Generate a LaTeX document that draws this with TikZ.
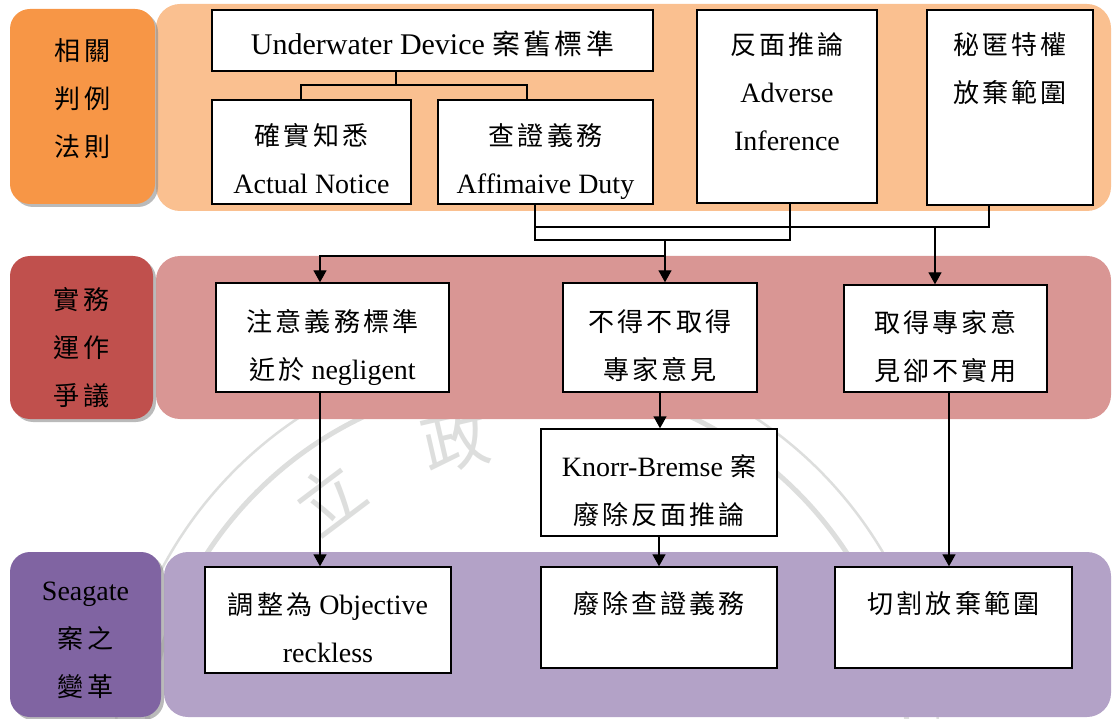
\documentclass[tikz,border=0pt]{standalone}
\usepackage{fontspec}
\setmainfont{Liberation Serif}
\newfontfamily\zh{Noto Sans CJK TC}[Scale=0.93, LetterSpace=12]
\usepackage{xcolor}
\usetikzlibrary{arrows.meta}
\usetikzlibrary{shadows}
\definecolor{orangedark}{HTML}{F79646}
\definecolor{orangelight}{HTML}{FAC090}
\definecolor{reddark}{HTML}{C0504D}
\definecolor{redlight}{HTML}{D99694}
\definecolor{purpledark}{HTML}{8064A2}
\definecolor{purplelight}{HTML}{B3A2C7}
\definecolor{marklight}{HTML}{DDDEDD}
\begin{document}
\begin{tikzpicture}[x=1pt, y=-1pt,
  every node/.style={font=\fontsize{28}{48}\selectfont, align=center},
  textpad/.style n args={2}{execute at begin node={\rule{0pt}{#1pt}}, execute at end node={\rule[-#2pt]{0pt}{#2pt}}},
  twolines/.style={textpad={92}{8}},
  rowband/.style={rounded corners=24pt, inner sep=0pt},
  rowtag/.style={rounded corners=20pt, inner sep=0pt, font=\fontsize{28}{48}\selectfont\zh,
    drop shadow={shadow xshift=3pt, shadow yshift=-3pt, fill=black!45, opacity=0.6}},
  casebox/.style={draw, line width=1.4pt, fill=white, inner sep=0pt},
  link/.style={line width=1.4pt},
  flow/.style={link, -{Triangle[width=13pt, length=12pt]}}]
\useasboundingbox (0,0) rectangle (1114,719);

% watermark
\begin{scope}
\clip (0,0) rectangle (1114,719);
\draw [marklight, line width=2.5pt] (527,762) circle (413);
\draw [marklight, line width=5pt] (527,762) circle (382);
\node (markli) [marklight, rotate=37, font=\fontsize{72}{72}\selectfont\zh] at (329,498) {立};
\node (markzheng) [marklight, rotate=13, font=\fontsize{72}{72}\selectfont\zh] at (455,440) {政};
\end{scope}

% rows
\node (rulesband) [rowband, fill=orangelight, minimum width=955pt, minimum height=207pt] at (633.5,107.5) {};
\node (rulestag) [rowtag, fill=orangedark, minimum width=145pt, minimum height=195pt, textpad={25}{17}] at (82.5,106.5) {相關\\判例\\法則};
\node (practiceband) [rowband, fill=redlight, minimum width=955pt, minimum height=163pt] at (633.5,337.5) {};
\node (practicetag) [rowtag, fill=reddark, minimum width=143pt, minimum height=163pt, textpad={143}{8}] at (81.5,337.5) {實務\\運作\\爭議};
\node (seagateband) [rowband, fill=purplelight, minimum width=947pt, minimum height=165pt] at (637.5,634.5) {};
\node (seagatetag) [rowtag, fill=purpledark, minimum width=151pt, minimum height=165pt, textpad={131}{8}] at (85.5,634.5) {{\rmfamily Seagate}\\案之\\變革};

% case law
\node (underwater) [casebox, minimum width=441pt, minimum height=61pt, textpad={37}{8}, font=\fontsize{30}{48}\selectfont] at (432.5,40.5) {Underwater Device {\zh 案舊標準}};
\node (notice) [casebox, twolines, minimum width=199pt, minimum height=104pt] at (311.5,152) {{\zh 確實知悉}\\Actual Notice};
\node (duty) [casebox, twolines, minimum width=215pt, minimum height=104pt] at (545.5,152) {{\zh 查證義務}\\Affimaive Duty};
\node (adverse) [casebox, minimum width=180pt, minimum height=193pt, textpad={25}{30}] at (787,106.5) {{\zh 反面推論}\\Adverse\\Inference};
\node (privilege) [casebox, minimum width=166pt, minimum height=195pt, textpad={25}{80}] at (1010,107.5) {{\zh 秘匿特權}\\{\zh 放棄範圍}};

% practice
\node (care) [casebox, twolines, minimum width=233pt, minimum height=109pt] at (332.5,337.5) {{\zh 注意義務標準}\\{\zh 近於} negligent};
\node (opinion) [casebox, twolines, minimum width=194pt, minimum height=109pt] at (660,337.5) {{\zh 不得不取得}\\{\zh 專家意見}};
\node (useless) [casebox, twolines, minimum width=203pt, minimum height=107pt] at (945.5,338.5) {{\zh 取得專家意}\\{\zh 見卻不實用}};
\node (knorr) [casebox, twolines, minimum width=236pt, minimum height=107pt] at (659,482.5) {Knorr-Bremse {\zh 案}\\{\zh 廢除反面推論}};

% seagate
\node (reckless) [casebox, twolines, minimum width=246pt, minimum height=106pt] at (328,620) {{\zh 調整為} Objective\\reckless};
\node (noduty) [casebox, minimum width=236pt, minimum height=101pt, textpad={25}{34}] at (659,617.5) {{\zh 廢除查證義務}};
\node (cutting) [casebox, minimum width=237pt, minimum height=101pt, textpad={25}{34}] at (953.5,617.5) {{\zh 切割放棄範圍}};

% connectors
\coordinate (split) at (396,85);
\coordinate (splitl) at (301,85);
\coordinate (splitr) at (527,85);
\draw [link] (underwater.south -| split) -- (split);
\draw [link] (notice.north -| splitl) -- (splitl) -- (splitr) -- (duty.north -| splitr);

\coordinate (joinl) at (535,240);
\coordinate (joinr) at (790,240);
\coordinate (topl) at (535,227);
\coordinate (topr) at (989,227);
\draw [link] (duty.south -| joinl) -- (joinl) -- (joinr) -- (adverse.south -| joinr);
\draw [link] (topl) -- (topr) -- (privilege.south -| topr);

\coordinate (drop) at (665,240);
\coordinate (dropm) at (665,256);
\coordinate (dropl) at (320,256);
\coordinate (dropr) at (935,227);
\coordinate (cut) at (949,500);
\draw [flow] (drop) -- (opinion.north -| drop);
\draw [flow] (dropm) -- (dropl) -- (care.north -| dropl);
\draw [flow] (dropr) -- (useless.north -| dropr);

\draw [flow] (care.south -| dropl) -- (reckless.north -| dropl);
\draw [flow] (opinion.south) -- (opinion.south |- knorr.north);
\draw [flow] (knorr.south) -- (noduty.north);
\draw [flow] (useless.south -| cut) -- (cutting.north -| cut);

\end{tikzpicture}
\end{document}
